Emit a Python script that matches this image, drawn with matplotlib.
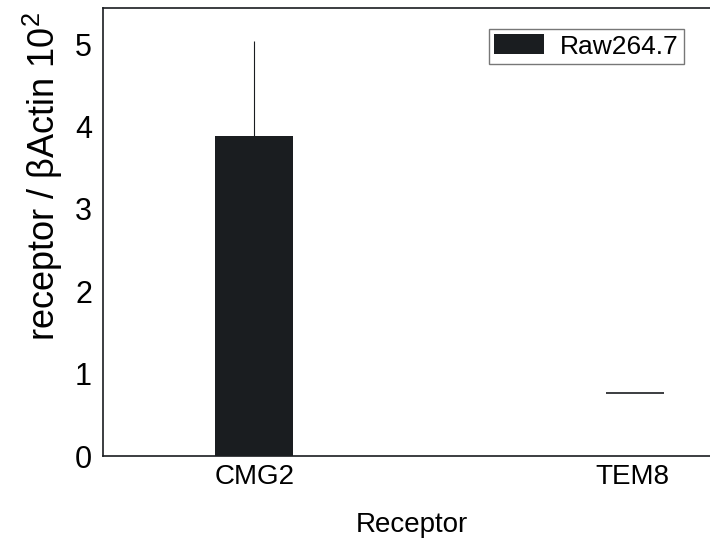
import numpy as np
import matplotlib
matplotlib.use("Agg")
import matplotlib.pyplot as plt

# data
categories = ['CMG2', 'TEM8']
means = [3.88, 0.005]
err_top = [5.04, 0.76]
series_name = 'Raw264.7'
yticks = [0, 1, 2, 3, 4, 5]

plt.rcParams['font.family'] = ['Liberation Sans', 'DejaVu Sans']
plt.rcParams['mathtext.fontset'] = 'custom'
plt.rcParams['mathtext.rm'] = 'Liberation Sans'
plt.rcParams['mathtext.default'] = 'regular'

fig = plt.figure(figsize=(7.10, 5.43), dpi=100)
ax = fig.add_axes([103/710, 87/543, 607/710, 448/543])

x = np.arange(len(categories))
ax.bar(x, means, width=0.206, color='#1a1d20', label=series_name, zorder=2)

# CMG2 error bar (upper only, no cap)
ax.vlines(x[0], means[0], err_top[0], color='#1a1d20', lw=0.8, zorder=1)
# TEM8 only shows a flat line at its upper error
ax.hlines(err_top[1], x[1] - 0.07, x[1] + 0.085, color='#1a1d20', lw=1.2)

ax.set_xlim(-0.40, 1.206)
ax.set_ylim(0, 5.44)
ax.set_xticks(x)
ax.set_xticklabels(categories, fontsize=20)
ax.set_yticks(yticks)
ax.set_yticklabels([str(t) for t in yticks], fontsize=22)
ax.tick_params(length=0, pad=8)
ax.tick_params(axis='x', pad=6)

ax.spines['right'].set_visible(False)
for s in ['left', 'bottom', 'top']:
    ax.spines[s].set_linewidth(1.2)
    ax.spines[s].set_color('#1a1d20')

fig.text(412/710, 1 - 525/543, 'Receptor', fontsize=20, ha='center', va='center')
fig.text(43/710, 1 - 176/543, r'receptor / βActin 10$^{2}$', fontsize=26,
         rotation=90, ha='center', va='center')

leg = ax.legend(loc='upper right', bbox_to_anchor=(684/710, 1 - 29/543), bbox_transform=fig.transFigure,
                fontsize=19, fancybox=False, frameon=True, handlelength=1.9, handleheight=0.8,
                handletextpad=0.6, borderpad=0.2, borderaxespad=0)
leg.get_frame().set_edgecolor('#555555')
leg.get_frame().set_linewidth(1.0)

fig.savefig('out.png', dpi=100)
